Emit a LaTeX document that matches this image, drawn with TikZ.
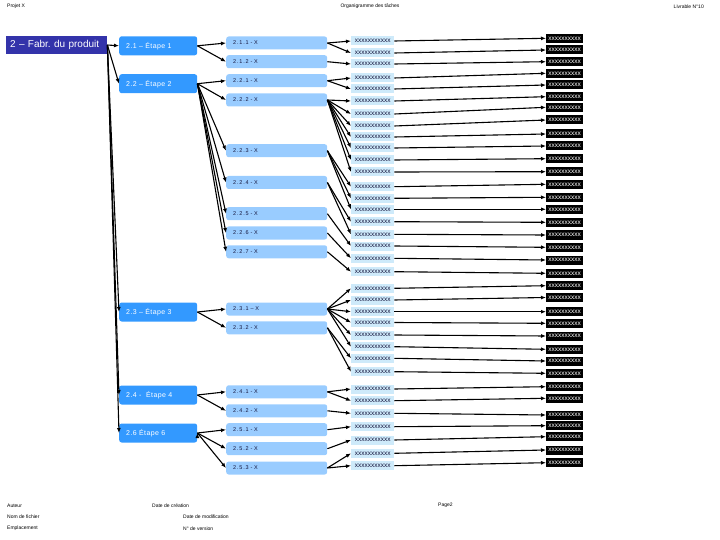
\documentclass[tikz,border=0pt]{standalone}
\usepackage{fontspec}
\setmainfont{Liberation Sans}
\usetikzlibrary{arrows.meta, positioning}

\definecolor{fabblue}{RGB}{51,51,170}
\definecolor{stepblue}{RGB}{51,153,255}
\definecolor{taskblue}{RGB}{153,204,255}
\definecolor{workblue}{RGB}{206,234,250}
\definecolor{textnavy}{RGB}{20,20,60}

\tikzset{
    fab/.style={fill=fabblue, text=white, anchor=west, minimum height=18pt, text width=93pt, inner xsep=4pt, inner ysep=0pt, align=left, font=\fontsize{10}{10}\selectfont},
    etape/.style={fill=stepblue, text=white, rounded corners=2.5pt, anchor=west, minimum height=19pt, text width=64pt, inner xsep=7pt, inner ysep=0pt, align=left, font=\fontsize{7}{7}\selectfont\addfontfeatures{LetterSpace=6}},
    tache/.style={fill=taskblue, text=textnavy, rounded corners=2.5pt, anchor=west, minimum height=13pt, text width=87pt, inner xsep=7pt, inner ysep=0pt, align=left, font=\fontsize{5.5}{6}\selectfont\addfontfeatures{LetterSpace=15}},
    sous/.style={fill=workblue, text=textnavy, anchor=west, minimum width=43pt, minimum height=9pt, inner sep=0pt, font=\fontsize{6.5}{6.5}\selectfont},
    livr/.style={fill=black, text=white, anchor=west, minimum width=37pt, minimum height=9pt, inner sep=0pt, font=\fontsize{6.5}{6.5}\selectfont},
    info/.style={anchor=west, inner sep=0pt, font=\fontsize{5}{5}\selectfont},
    fleche/.style={-{Latex[length=5pt,width=4pt]}, line width=1.1pt},
}

\begin{document}
\begin{tikzpicture}[x=1pt, y=-1pt]
    \useasboundingbox (0,0) rectangle (720,540);

    % en-tete et pied de page
    \node[info] (projet) at (7,6) {Projet X};
    \node[info, anchor=center] (titre) at (370,6.5) {Organigramme des tâches};
    \node[info, anchor=east] (livrable) at (704,6.5) {Livrable N°10};
    \node[info] (auteur) at (7,505.7) {Auteur};
    \node[info] (creation) at (152,505.7) {Date de création};
    \node[info] (page) at (438,505.7) {Page2};
    \node[info] (fichier) at (7,516.5) {Nom de fichier};
    \node[info] (modif) at (183,516.5) {Date de modification};
    \node[info] (emplacement) at (7,528.3) {Emplacement};
    \node[info] (version) at (183,528.3) {N° de version};

    % niveaux 1 et 2
    \node[fab] (f) at (6,45) {2 – Fabr.\ du produit};
    \node[etape] (e1) at (119,45.8) {2.1 – Étape 1};
    \node[etape] (e2) at (119,83.7) {2.2 – Étape 2};
    \node[etape] (e3) at (119,312) {2.3 – Étape 3};
    \node[etape] (e4) at (119,395) {2.4 -\ \ Étape 4};
    \node[etape] (e5) at (119,433) {2.6 Étape 6};

    % niveau 3
    \node[tache] (s211) at (226,43) {2.1.1 - X};
    \node[tache] (s212) at (226,61.7) {2.1.2 - X};
    \node[tache] (s221) at (226,80.7) {2.2.1 - X};
    \node[tache] (s222) at (226,100) {2.2.2 - X};
    \node[tache] (s223) at (226,150.7) {2.2.3 - X};
    \node[tache] (s224) at (226,182.5) {2.2.4 - X};
    \node[tache] (s225) at (226,213.7) {2.2.5 - X};
    \node[tache] (s226) at (226,233) {2.2.6 - X};
    \node[tache] (s227) at (226,251.8) {2.2.7 - X};
    \node[tache] (s231) at (226,309) {2.3.1 – X};
    \node[tache] (s232) at (226,327.8) {2.3.2 - X};
    \node[tache] (s241) at (226,391.8) {2.4.1 - X};
    \node[tache] (s242) at (226,410.8) {2.4.2 - X};
    \node[tache] (s251) at (226,429.7) {2.5.1 - X};
    \node[tache] (s252) at (226,448.7) {2.5.2 - X};
    \node[tache] (s253) at (226,468) {2.5.3 - X};

    \draw[fleche]
    (f.east) edge (e1.west) edge (e2.west) edge (e3.west) edge (e4.west) edge (e5.west)
    (e1.east) edge (s211.west) edge (s212.west)
    (e2.east) edge (s221.west) edge (s222.west) edge (s223.west) edge (s224.west)
              edge (s225.west) edge (s226.west) edge (s227.west)
    (e3.east) edge (s231.west) edge (s232.west)
    (e4.east) edge (s241.west) edge (s242.west)
    (e5.east) edge (s251.west) edge (s252.west) edge (s253.west);

    % niveaux 4 et 5
    \foreach \i/\p/\ya/\yb in {1/211/41/38.3, 2/211/53/50, 3/212/64/61.7, 4/221/78/73.3,
        5/221/89/85, 6/222/101/96.7, 7/222/114/107.3, 8/222/126/120, 9/222/137/134,
        10/222/148/146, 11/222/160/158.7, 12/222/172/171.7, 13/223/186.7/184.3,
        14/223/198.3/197.3, 15/223/209.3/209.3, 16/224/221.7/222.3, 17/224/234.3/235,
        18/225/246/247.3, 19/226/258.3/260, 20/227/271.7/273.3, 21/231/288.3/285.7,
        22/231/300/297.5, 23/231/311.7/311.7, 24/231/322.5/323.3, 25/231/335/336,
        26/231/346.7/349.3, 27/232/358.3/361, 28/232/371.7/373.3, 29/241/389/386.7,
        30/241/400.7/398.3, 31/242/413.3/415, 32/251/426.7/425.7, 33/252/440/436.7,
        34/253/453.3/450, 35/253/465.7/462.7} {
        \node[sous] (t\i) at (351,\ya) {xxxxxxxxxxx};
        \node[livr] (l\i) at (546,\yb) {xxxxxxxxxx};
        \draw[fleche] (s\p.east) -- (t\i.west);
        \draw[fleche] (t\i.east) -- (l\i.west);
    }
\end{tikzpicture}
\end{document}
